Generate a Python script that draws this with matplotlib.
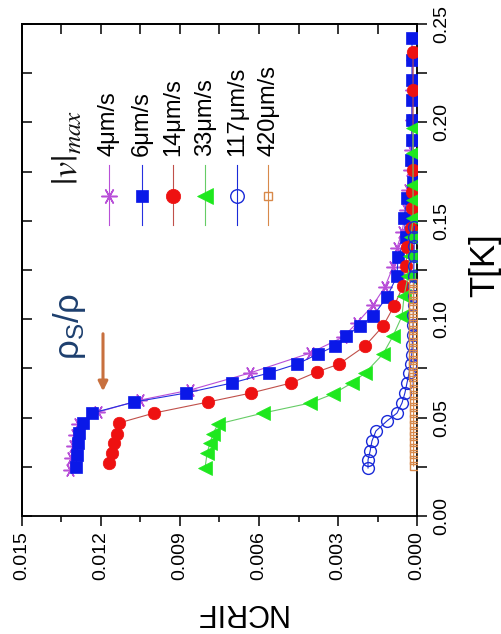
import matplotlib
matplotlib.use("Agg")
import matplotlib.pyplot as plt
from matplotlib.ticker import MultipleLocator, FormatStrFormatter
from matplotlib.lines import Line2D

plt.rcParams['font.family'] = ['Liberation Sans', 'DejaVu Sans']
plt.rcParams['mathtext.fontset'] = 'stix'

# ---------------- data (T [K], NCRIF) ----------------
labels = ['4\u03bcm/s', '6\u03bcm/s', '14\u03bcm/s', '33\u03bcm/s', '117\u03bcm/s', '420\u03bcm/s']

T_4 = [0.0234, 0.0295, 0.0356, 0.0412, 0.0467, 0.0528, 0.0589, 0.0640, 0.0727, 0.0828,
       0.0909, 0.0981, 0.1072, 0.1164, 0.1265, 0.1362, 0.1443, 0.1555, 0.1656, 0.1758,
       0.1860, 0.2012, 0.2165, 0.2317]
N_4 = [0.01318, 0.01314, 0.01306, 0.01299, 0.01287, 0.01211, 0.01052, 0.00862, 0.00634, 0.00406,
       0.00281, 0.00228, 0.00167, 0.00122, 0.00091, 0.00076, 0.00057, 0.00042, 0.00034, 0.00027,
       0.00023, 0.00019, 0.00019, 0.00015]

T_6 = [0.0249, 0.0310, 0.0371, 0.0422, 0.0473, 0.0523, 0.0579, 0.0625, 0.0676, 0.0727,
       0.0772, 0.0823, 0.0864, 0.0915, 0.0965, 0.1016, 0.1113, 0.1219, 0.1316, 0.1418,
       0.1514, 0.1616, 0.1697, 0.1809, 0.1910, 0.2012, 0.2114, 0.2215, 0.2317, 0.2429]
N_6 = [0.01295, 0.01291, 0.01287, 0.01283, 0.01268, 0.01234, 0.01075, 0.00877, 0.00702, 0.00562,
       0.00456, 0.00376, 0.00311, 0.00270, 0.00216, 0.00167, 0.00114, 0.00076, 0.00072, 0.00042,
       0.00049, 0.00038, 0.00015, 0.00023, 0.00019, 0.00019, 0.00019, 0.00019, 0.00019, 0.00019]

T_14 = [0.0269, 0.0320, 0.0371, 0.0417, 0.0473, 0.0523, 0.0579, 0.0625, 0.0676, 0.0732,
        0.0772, 0.0864, 0.0965, 0.1067, 0.1169, 0.1270, 0.1367, 0.1463, 0.1565, 0.1646,
        0.1758, 0.2165, 0.2358]
N_14 = [0.01169, 0.01158, 0.01150, 0.01139, 0.01131, 0.00999, 0.00794, 0.00630, 0.00478, 0.00380,
        0.00296, 0.00197, 0.00129, 0.00087, 0.00053, 0.00042, 0.00038, 0.00023, 0.00019, 0.00019,
        0.00015, 0.00015, 0.00015]

T_33 = [0.0244, 0.0320, 0.0371, 0.0417, 0.0467, 0.0523, 0.0574, 0.0620, 0.0676, 0.0727,
        0.0823, 0.0915, 0.1016, 0.1118, 0.1219, 0.1321, 0.1418, 0.1514, 0.1606, 0.1682,
        0.1844, 0.1971]
N_33 = [0.00805, 0.00797, 0.00786, 0.00775, 0.00756, 0.00585, 0.00406, 0.00319, 0.00247, 0.00197,
        0.00129, 0.00091, 0.00057, 0.00049, 0.00034, 0.00027, 0.00023, 0.00015, 0.00015, 0.00015,
        0.00015, 0.00015]

T_117 = [0.0244, 0.0285, 0.0330, 0.0381, 0.0432, 0.0483, 0.0523, 0.0574, 0.0625, 0.0676,
         0.0727, 0.0772, 0.0820, 0.0870, 0.0920, 0.0970, 0.1020, 0.1070, 0.1120, 0.1170,
         0.1220, 0.1270, 0.1320, 0.1370, 0.1420, 0.1470]
N_117 = [0.00186, 0.00186, 0.00178, 0.00171, 0.00156, 0.00114, 0.00076, 0.00057, 0.00046, 0.00038,
         0.00030, 0.00023, 0.00020, 0.00018, 0.00016, 0.00015, 0.00014, 0.00013, 0.00013, 0.00012,
         0.00012, 0.00012, 0.00011, 0.00011, 0.00011, 0.00010]

T_420 = [0.0254, 0.0284, 0.0314, 0.0344, 0.0374, 0.0404, 0.0434, 0.0464, 0.0494, 0.0524,
         0.0554, 0.0584, 0.0614, 0.0644, 0.0674, 0.0704, 0.0734, 0.0764, 0.0794, 0.0824,
         0.0854, 0.0884, 0.0914, 0.0944, 0.0974, 0.1004, 0.1034, 0.1064, 0.1094, 0.1124,
         0.1154, 0.1184]
N_420 = [0.00013, 0.00013, 0.00013, 0.00013, 0.00013, 0.00013, 0.00013, 0.00013, 0.00013, 0.00013,
         0.00013, 0.00013, 0.00013, 0.00013, 0.00013, 0.00014, 0.00014, 0.00014, 0.00014, 0.00014,
         0.00014, 0.00014, 0.00014, 0.00014, 0.00014, 0.00014, 0.00014, 0.00014, 0.00014, 0.00014,
         0.00014, 0.00014]

x_ticks = [0.000, 0.003, 0.006, 0.009, 0.012, 0.015]
y_ticks = [0.00, 0.05, 0.10, 0.15, 0.20, 0.25]

# ---------------- styles ----------------
asterisk = (6, 2, 90)
styles = [
    dict(marker=asterisk, ms=10, mfc='#b84fd8', mec='#b84fd8', mew=1.1, color='#b84fd8'),
    dict(marker='s', ms=8, mfc='#0a18e8', mec='#0a18e8', mew=0.5, color='#2630e0'),
    dict(marker='o', ms=9, mfc='#ee1111', mec='#ee1111', mew=0.5, color='#c0504a'),
    dict(marker='<', ms=10, mfc='#1ee81e', mec='#1ee81e', mew=0.5, color='#66cc66'),
    dict(marker='o', ms=8.5, mfc='none', mec='#1a2ad8', mew=1.0, color='#1a2ad8'),
    dict(marker='s', ms=5.5, mfc='none', mec='#d8894a', mew=1.0, color='#d8894a'),
]
series = [(T_4, N_4), (T_6, N_6), (T_14, N_14), (T_33, N_33), (T_117, N_117), (T_420, N_420)]

W, H = 501, 634
fig = plt.figure(figsize=(W / 100, H / 100), dpi=100)
L, R, TOP, BOT = 22, 417, 24, 516
ax = fig.add_axes([L / W, 1 - BOT / H, (R - L) / W, (BOT - TOP) / H])

for i, ((T, N), st) in enumerate(zip(series, styles)):
    ax.plot(N, T, lw=0.8, zorder=2 + i, **st)

ax.set_xlim(0.015, 0.0)
ax.set_ylim(0.0, 0.25)

# main axes: bottom (out) and right (out)
ax.xaxis.set_major_locator(MultipleLocator(0.003))
ax.xaxis.set_minor_locator(MultipleLocator(0.0015))
ax.xaxis.set_major_formatter(FormatStrFormatter('%.3f'))
ax.set_xticks(x_ticks)
ax.yaxis.tick_right()
ax.yaxis.set_major_locator(MultipleLocator(0.05))
ax.yaxis.set_minor_locator(MultipleLocator(0.025))
ax.yaxis.set_major_formatter(FormatStrFormatter('%.2f'))
ax.set_yticks(y_ticks)
ax.tick_params(axis='x', which='major', direction='out', length=7, width=1.1, labelsize=14,
               pad=4, labelrotation=90)
ax.tick_params(axis='x', which='minor', direction='out', length=4.5, width=1.1)
ax.tick_params(axis='y', which='major', direction='out', length=7, width=1.1, labelsize=14,
               pad=5, labelrotation=90)
ax.tick_params(axis='y', which='minor', direction='out', length=7, width=1.1)
for lab in ax.get_yticklabels():
    lab.set_va('center')
    lab.set_ha('left')
for sp in ax.spines.values():
    sp.set_linewidth(1.3)

# top and left: inward ticks without labels
secx = ax.secondary_xaxis('top')
secx.xaxis.set_major_locator(MultipleLocator(0.003))
secx.xaxis.set_minor_locator(MultipleLocator(0.0015))
secx.tick_params(axis='x', which='both', direction='in', length=7, width=1.1, labelbottom=False,
                 labeltop=False)
secx.spines['top'].set_linewidth(1.3)
secy = ax.secondary_yaxis('left')
secy.yaxis.set_major_locator(MultipleLocator(0.05))
secy.yaxis.set_minor_locator(MultipleLocator(0.025))
secy.tick_params(axis='y', which='both', direction='in', length=7, width=1.1, labelleft=False,
                 labelright=False)
secy.spines['left'].set_linewidth(1.3)

# axis labels
fig.text(240 / W, 1 - 612 / H, 'NCRIF', rotation=180, ha='center', va='center', fontsize=22)
fig.text(485 / W, 1 - 265 / H, 'T[K]', rotation=90, ha='center', va='center', fontsize=25)

# manual rotated legend
def afr(px, py):
    return ((px - L) / (R - L), (BOT - py) / (BOT - TOP))

ax.text(*afr(68, 185), r'$|v|_{max}$', rotation=90, rotation_mode='anchor', ha='left', va='center',
        fontsize=26, transform=ax.transAxes, color='#111111')
entry_x = [109, 142, 173, 205, 237, 268]
for ex, lab, st in zip(entry_x, labels, styles):
    x0, y0 = afr(ex, 225)
    x1, y1 = afr(ex, 165)
    ax.add_line(Line2D([x0, x1], [y0, y1], transform=ax.transAxes, lw=0.8, color=st['color'],
                       zorder=10))
    xm, ym = afr(ex, 196)
    ax.add_line(Line2D([xm], [ym], transform=ax.transAxes, marker=st['marker'], ms=st['ms'] * 1.15,
                       mfc=st['mfc'], mec=st['mec'], mew=st['mew'], zorder=11))
    ax.text(*afr(ex, 156), lab, rotation=90, rotation_mode='anchor', ha='left', va='center',
            fontsize=17, transform=ax.transAxes)

# rho_s / rho annotation with arrow
ax.text(*afr(70, 360), r'$\mathregular{\rho_S/\rho}$', rotation=90, rotation_mode='anchor', ha='left',
        va='center', fontsize=25, color='#1d3f6e', transform=ax.transAxes)
ax.annotate('', xy=afr(103, 394), xytext=afr(103, 331), xycoords='axes fraction',
            textcoords='axes fraction',
            arrowprops=dict(arrowstyle='-|>', color='#c8703e', lw=2.2, mutation_scale=14))

fig.savefig('out.png', dpi=100)
